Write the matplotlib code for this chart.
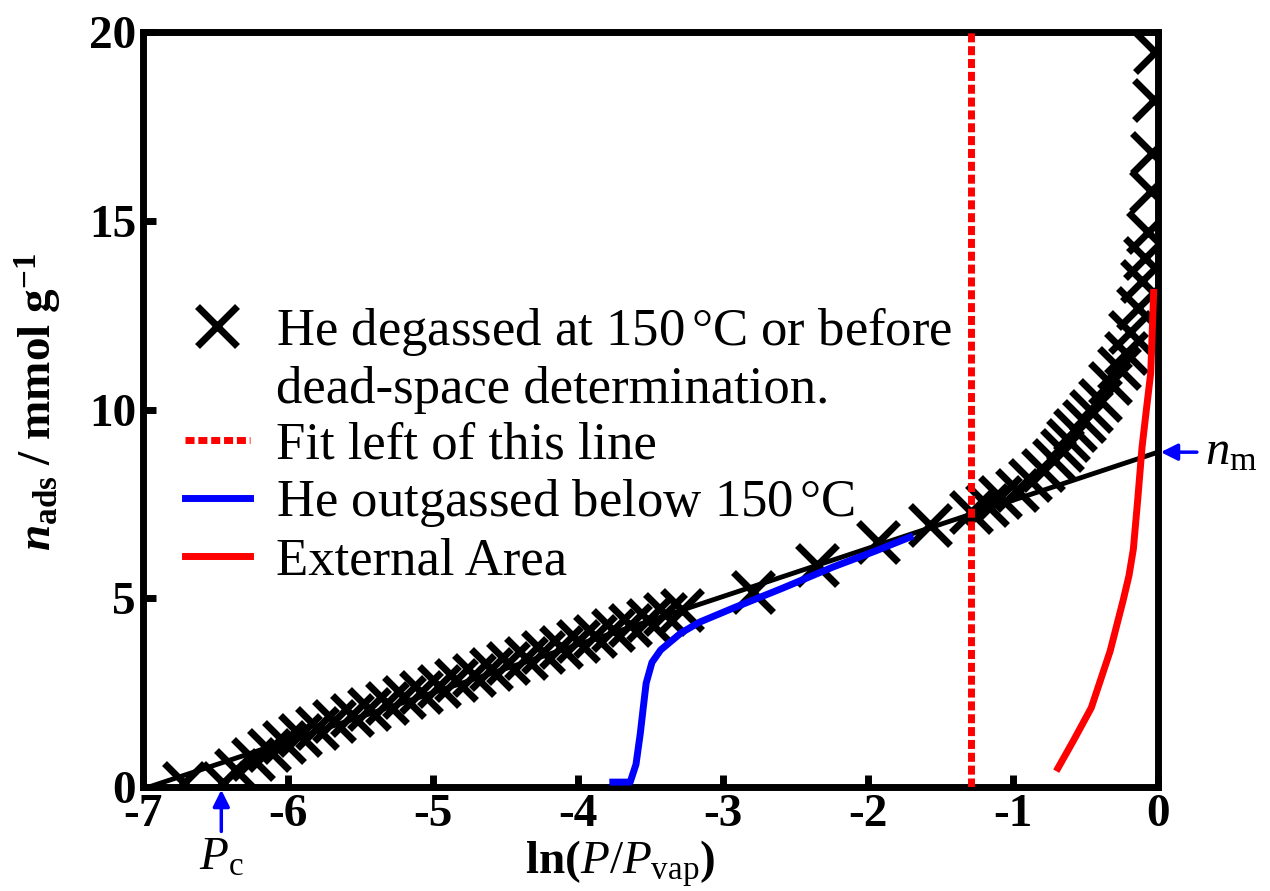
import matplotlib
matplotlib.use("Agg")
import matplotlib.pyplot as plt
from matplotlib.lines import Line2D

plt.rcParams['font.family'] = ['Liberation Serif', 'DejaVu Serif']
plt.rcParams['mathtext.fontset'] = 'custom'
plt.rcParams['mathtext.rm'] = 'Liberation Serif'
plt.rcParams['mathtext.it'] = 'Liberation Serif:italic'
plt.rcParams['mathtext.bf'] = 'Liberation Serif:bold'
plt.rcParams['mathtext.bfit'] = 'Liberation Serif:italic:bold'
plt.rcParams['axes.unicode_minus'] = False

# He isotherm, degassed at 150 C
lnp_he = [-6.72, -6.45, -6.36, -6.24, -6.13, -6.03, -5.92, -5.80, -5.68, -5.56,
          -5.44, -5.32, -5.20, -5.08, -4.96, -4.84, -4.72, -4.60, -4.48, -4.36,
          -4.24, -4.12, -4.00, -3.88, -3.76, -3.64, -3.52, -3.40, -3.28,
          -2.79, -2.35, -1.93, -1.57, -1.29, -1.18, -1.09, -0.97, -0.88, -0.79,
          -0.72, -0.66, -0.62, -0.57, -0.51, -0.46, -0.40, -0.33, -0.27, -0.22,
          -0.19, -0.14, -0.11, -0.09, -0.07, -0.05, -0.04, -0.03, -0.02]
n_he = [0.10, 0.10, 0.45, 0.75, 0.98, 1.18, 1.38, 1.57, 1.74, 1.90,
        2.06, 2.22, 2.38, 2.53, 2.68, 2.83, 2.98, 3.13, 3.28, 3.43,
        3.57, 3.72, 3.87, 4.01, 4.15, 4.29, 4.43, 4.57, 4.70,
        5.17, 5.88, 6.49, 6.94, 7.28, 7.48, 7.68, 7.87, 8.13, 8.40,
        8.66, 8.93, 9.19, 9.46, 9.70, 9.95, 10.25, 10.70, 11.10, 11.50,
        12.05, 12.70, 13.40, 14.00, 14.70, 15.80, 16.80, 18.20, 19.47]

# He isotherm, outgassed below 150 C
lnp_low = [-3.76, -3.64, -3.60, -3.57, -3.55, -3.53, -3.49, -3.43, -3.29, -3.16,
           -2.93, -2.60, -2.24, -1.95, -1.71]
n_low = [0.13, 0.13, 0.60, 1.43, 2.10, 2.75, 3.30, 3.63, 4.08, 4.37,
         4.74, 5.25, 5.83, 6.25, 6.62]

# external area curve
lnp_ext = [-0.69, -0.58, -0.46, -0.33, -0.24, -0.20, -0.17, -0.14, -0.11,
           -0.08, -0.05, -0.03]
n_ext = [0.50, 1.25, 2.10, 3.60, 4.95, 5.60, 6.30, 7.60, 9.00,
         10.0, 10.97, 13.10]

# linear fit of the low-pressure part
fit_x = [-6.96, 0.0]
fit_y = [0.0, 8.87]
n_m = fit_y[-1]
ln_pc = -6.46
fit_limit = -1.29

fig = plt.figure(figsize=(12.7, 8.91), dpi=100)
ax = fig.add_axes([0.1126, 0.1167, 0.7992, 0.8474])

ax.plot(lnp_he, n_he, linestyle='none', marker='x', color='black',
        markersize=29, markeredgewidth=5, zorder=2)
ax.plot(fit_x, fit_y, color='black', lw=3.5, zorder=3)
ax.plot(lnp_low, n_low, color='blue', lw=5, zorder=4)
ax.axvline(fit_limit, color='red', lw=5, linestyle=(0, (1.3, 0.55)), zorder=5)
ax.plot(lnp_ext, n_ext, color='red', lw=5, zorder=5)

ax.set_xlim(-7, 0)
ax.set_ylim(0, 20)
ax.set_xticks([-7, -6, -5, -4, -3, -2, -1, 0])
ax.set_yticks([0, 5, 10, 15, 20])
ax.tick_params(direction='in', length=9, width=5, labelsize=34, pad=5)
for lab in ax.get_xticklabels() + ax.get_yticklabels():
    lab.set_fontweight('bold')
for sp in ax.spines.values():
    sp.set_linewidth(5)

ax.set_xlabel(r'$\mathbf{ln(}P/P_{\mathrm{vap}}\mathbf{)}$', fontsize=34)
ax.xaxis.set_label_coords(0.47, -0.068)
ax.set_ylabel(r'$\mathbfit{n}_{\mathbf{ads}}\ \mathbf{/\ mmol\ g^{-1}}$', fontsize=34)
ax.yaxis.set_label_coords(-0.078, 0.51)

# P_c and n_m markers
ax.annotate(r'$P_{\mathrm{c}}$', xy=(ln_pc, 0), xytext=(0, -36),
            textcoords='offset points', ha='center', va='top', fontsize=34,
            annotation_clip=False,
            arrowprops=dict(arrowstyle='-|>', color='blue', lw=2.5,
                            mutation_scale=25, shrinkA=2, shrinkB=2))
ax.annotate(r'$n_{\mathrm{m}}$', xy=(0, n_m), xytext=(34, 0),
            textcoords='offset points', ha='left', va='center', fontsize=35,
            annotation_clip=False,
            arrowprops=dict(arrowstyle='-|>', color='blue', lw=2.5,
                            mutation_scale=25, shrinkA=4, shrinkB=2))

handles = [
    Line2D([], [], linestyle='none', marker='x', color='black',
           markersize=29, markeredgewidth=5),
    Line2D([], [], linestyle='none'),
    Line2D([], [], color='red', lw=5, linestyle=(0, (1.3, 0.55))),
    Line2D([], [], color='blue', lw=5),
    Line2D([], [], color='red', lw=5),
]
labels = [
    'He degassed at 150$\\,$°C or before',
    'dead-space determination.',
    'Fit left of this line',
    'He outgassed below 150$\\,$°C',
    'External Area',
]
ax.legend(handles, labels, loc='center left', bbox_to_anchor=(0.041, 0.453),
          frameon=False, fontsize=38, handlelength=1.23, handletextpad=0.51,
          labelspacing=0.15, borderpad=0, borderaxespad=0)

fig.savefig('out.png', dpi=100)
